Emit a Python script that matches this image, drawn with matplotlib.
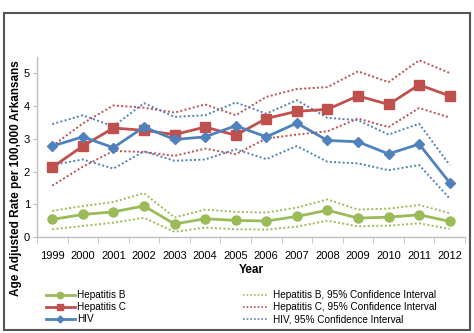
import matplotlib
matplotlib.use('Agg')
import matplotlib.pyplot as plt
from matplotlib.patches import Rectangle
import numpy as np

plt.rcParams['font.family'] = ['Liberation Sans', 'DejaVu Sans']

# Age adjusted rates per 100,000, Arkansas
years = ['1999', '2000', '2001', '2002', '2003', '2004', '2005',
         '2006', '2007', '2008', '2009', '2010', '2011', '2012']

hep_b = [0.54, 0.69, 0.77, 0.95, 0.40, 0.56, 0.51, 0.49, 0.63, 0.82, 0.58, 0.61, 0.68, 0.48]
hep_b_hi = [0.80, 0.95, 1.07, 1.34, 0.60, 0.84, 0.77, 0.75, 0.90, 1.15, 0.84, 0.87, 0.98, 0.73]
hep_b_lo = [0.24, 0.34, 0.44, 0.59, 0.16, 0.29, 0.24, 0.23, 0.32, 0.50, 0.33, 0.35, 0.42, 0.25]

hep_c = [2.13, 2.78, 3.33, 3.26, 3.13, 3.36, 3.11, 3.62, 3.84, 3.90, 4.31, 4.05, 4.65, 4.31]
hep_c_hi = [2.78, 3.47, 4.02, 3.95, 3.80, 4.05, 3.72, 4.28, 4.52, 4.58, 5.06, 4.73, 5.40, 5.01]
hep_c_lo = [1.57, 2.15, 2.63, 2.60, 2.48, 2.70, 2.53, 3.01, 3.13, 3.23, 3.62, 3.36, 3.94, 3.65]

hiv = [2.78, 3.06, 2.73, 3.36, 2.98, 3.06, 3.40, 3.06, 3.48, 2.95, 2.91, 2.54, 2.84, 1.66]
hiv_hi = [3.45, 3.72, 3.38, 4.09, 3.67, 3.72, 4.11, 3.77, 4.18, 3.64, 3.57, 3.13, 3.46, 2.20]
hiv_lo = [2.20, 2.37, 2.09, 2.62, 2.33, 2.37, 2.68, 2.38, 2.78, 2.30, 2.25, 2.04, 2.20, 1.18]

green = '#9bbb59'
red = '#c0504d'
blue = '#4f81bd'

fig = plt.figure(figsize=(4.74, 3.33), dpi=100)
ax = fig.add_axes([0.078, 0.288, 0.903, 0.541])
x = np.arange(len(years))

dot = (0, (1, 1.2))
# confidence intervals
for lo, hi, c in [(hep_b_lo, hep_b_hi, green), (hep_c_lo, hep_c_hi, red), (hiv_lo, hiv_hi, blue)]:
    ax.plot(x, hi, color=c, lw=1.4, linestyle=dot)
    ax.plot(x, lo, color=c, lw=1.4, linestyle=dot)

# rates
lb, = ax.plot(x, hep_b, color=green, lw=2, marker='o', ms=6.5)
lc, = ax.plot(x, hep_c, color=red, lw=2, marker='s', ms=7)
lh, = ax.plot(x, hiv, color=blue, lw=2, marker='D', ms=5)

ax.set_xlim(-0.5, len(years) - 0.5)
ax.set_ylim(0, 5.5)
ax.set_yticks([0, 1, 2, 3, 4, 5])
ax.set_xticks(x)
ax.set_xticklabels(years)
ax.set_xticks(np.arange(-0.5, len(years)), minor=True)
ax.tick_params(axis='x', which='major', length=0, labelsize=8, pad=10)
ax.tick_params(axis='x', which='minor', length=4, color='#bfbfbf', direction='out')
ax.tick_params(axis='y', length=3, color='#bfbfbf', labelsize=8, pad=2)

for s in ['top', 'right']:
    ax.spines[s].set_visible(False)
for s in ['left', 'bottom']:
    ax.spines[s].set_color('#bfbfbf')
    ax.spines[s].set_linewidth(1)

ax.set_xlabel('Year', fontsize=8.5, fontweight='bold', labelpad=2)
fig.text(0.034, 0.465, 'Age Adjusted Rate per 100,000 Arkansans', rotation=90,
         fontsize=8.5, fontweight='bold', ha='center', va='center')

# legends
ci_b, = ax.plot([], [], color=green, lw=1.2, linestyle=dot)
ci_c, = ax.plot([], [], color=red, lw=1.2, linestyle=dot)
ci_h, = ax.plot([], [], color=blue, lw=1.2, linestyle=dot)

leg1 = fig.legend([lb, lc, lh], ['Hepatitis B', 'Hepatitis C', 'HIV'],
                  loc='upper left', bbox_to_anchor=(0.097, 0.128), frameon=False,
                  fontsize=7.2, handlelength=2.9, handletextpad=0.25, labelspacing=0.2,
                  borderpad=0, borderaxespad=0, numpoints=1, markerscale=0.7)
leg2 = fig.legend([ci_b, ci_c, ci_h],
                  ['Hepatitis B, 95% Confidence Interval',
                   'Hepatitis C, 95% Confidence Interval',
                   'HIV, 95% Confidence Interval'],
                  loc='upper left', bbox_to_anchor=(0.513, 0.128), frameon=False,
                  fontsize=7.2, handlelength=2.5, handletextpad=0.5, labelspacing=0.2,
                  borderpad=0, borderaxespad=0)

# outer border
fig.add_artist(Rectangle((0.009, 0.009), 0.982, 0.953, transform=fig.transFigure,
                         fill=False, edgecolor='#555555', lw=1.5))

plt.savefig('out.png', dpi=100)
